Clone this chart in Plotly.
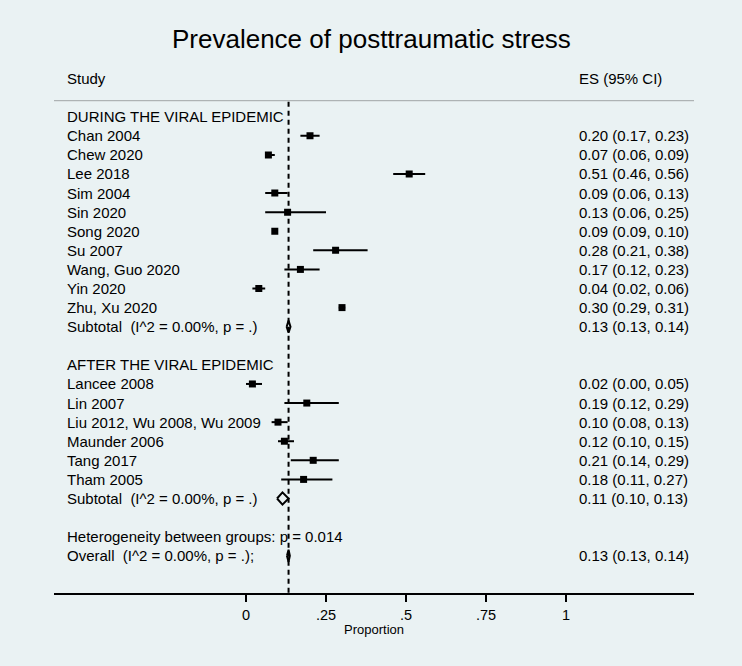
import plotly.graph_objects as go

# ---------------- data ----------------
title = "Prevalence of posttraumatic stress"
col_study = "Study"
col_es = "ES (95% CI)"

group1_name = "DURING THE VIRAL EPIDEMIC"
group1_studies = ["Chan 2004", "Chew 2020", "Lee 2018", "Sim 2004", "Sin 2020",
                  "Song 2020", "Su 2007", "Wang, Guo 2020", "Yin 2020", "Zhu, Xu 2020"]
group1_es = [0.20, 0.07, 0.51, 0.09, 0.13, 0.09, 0.28, 0.17, 0.04, 0.30]
group1_lo = [0.17, 0.06, 0.46, 0.06, 0.06, 0.09, 0.21, 0.12, 0.02, 0.29]
group1_hi = [0.23, 0.09, 0.56, 0.13, 0.25, 0.10, 0.38, 0.23, 0.06, 0.31]
group1_sub = [0.133, 0.127, 0.139]

group2_name = "AFTER THE VIRAL EPIDEMIC"
group2_studies = ["Lancee 2008", "Lin 2007", "Liu 2012, Wu 2008, Wu 2009",
                  "Maunder 2006", "Tang 2017", "Tham 2005"]
group2_es = [0.02, 0.19, 0.10, 0.12, 0.21, 0.18]
group2_lo = [0.00, 0.12, 0.08, 0.10, 0.14, 0.11]
group2_hi = [0.05, 0.29, 0.13, 0.15, 0.29, 0.27]
group2_sub = [0.114, 0.097, 0.133]

overall = [0.133, 0.128, 0.137]

subtotal_label = "Subtotal\u00a0 (I^2 = 0.00%, p = .)"
overall_label = "Overall\u00a0 (I^2 = 0.00%, p = .);"
het_label = "Heterogeneity between groups: p = 0.014"

x_tickvals = [0, 0.25, 0.5, 0.75, 1]
x_ticktext = ["0", ".25", ".5", ".75", "1"]
x_title = "Proportion"

# ---------------- layout constants ----------------
W, H = 742, 666
BG = "#eaf2f3"
FONT = "Liberation Sans, Arial, Helvetica, sans-serif"
AX_L, AX_R = 54, 694          # pixel extent of axis
AX_BOTTOM, AX_TOP = 592.7, 100.7
ROW0, PITCH = 116.7, 19.09

def py(pix):
    return 1 - pix / H

y_lo = (AX_BOTTOM - ROW0) / PITCH
y_hi = (AX_TOP - ROW0) / PITCH

# build row structure
rows = []  # (kind, label, es, lo, hi, row)
r = 0
for name, studies, es, lo, hi, sub in [
    (group1_name, group1_studies, group1_es, group1_lo, group1_hi, group1_sub),
    (group2_name, group2_studies, group2_es, group2_lo, group2_hi, group2_sub),
]:
    rows.append(("header", name, None, None, None, r)); r += 1
    for s, e, l, h in zip(studies, es, lo, hi):
        rows.append(("study", s, e, l, h, r)); r += 1
    rows.append(("sum", subtotal_label, sub[0], sub[1], sub[2], r)); r += 1
    r += 1
rows.append(("header", het_label, None, None, None, r)); r += 1
rows.append(("sum", overall_label, overall[0], overall[1], overall[2], r))

fig = go.Figure()

# study squares with CI lines
st = [row for row in rows if row[0] == "study"]
fig.add_trace(go.Scatter(
    x=[s[2] for s in st], y=[s[5] for s in st], mode="markers",
    marker=dict(symbol="square", size=7, color="black", line=dict(width=0)),
    error_x=dict(type="data", symmetric=False,
                 array=[s[4] - s[2] for s in st],
                 arrayminus=[s[2] - s[3] for s in st],
                 thickness=2, width=0, color="black"),
    hoverinfo="skip", showlegend=False))

# diamonds
HALF = 0.32
for kind, label, e, l, h, rr in rows:
    if kind == "sum":
        fig.add_trace(go.Scatter(
            x=[l, e, h, e, l], y=[rr, rr - HALF, rr, rr + HALF, rr],
            mode="lines", line=dict(color="black", width=2),
            hoverinfo="skip", showlegend=False))

# text annotations
ann = []
for kind, label, e, l, h, rr in rows:
    ann.append(dict(x=65 / W, xref="paper", y=rr, yref="y", text=label,
                    xanchor="left", yanchor="middle", showarrow=False,
                    font=dict(size=15, color="black", family=FONT)))
    if e is not None:
        txt = f"{e:.2f} ({l:.2f}, {h:.2f})"
        ann.append(dict(x=577 / W, xref="paper", y=rr, yref="y", text=txt,
                        xanchor="left", yanchor="middle", showarrow=False,
                        font=dict(size=15, color="black", family=FONT)))

ann.append(dict(x=65 / W, xref="paper", y=py(78.3), yref="paper", text=col_study,
                xanchor="left", yanchor="middle", showarrow=False,
                font=dict(size=15, color="black", family=FONT)))
ann.append(dict(x=577 / W, xref="paper", y=py(78.3), yref="paper", text=col_es,
                xanchor="left", yanchor="middle", showarrow=False,
                font=dict(size=15, color="black", family=FONT)))
ann.append(dict(x=0.5, xref="paper", y=py(39), yref="paper", text=title,
                xanchor="center", yanchor="middle", showarrow=False,
                font=dict(size=26, color="black", family=FONT)))
ann.append(dict(x=0.4, xref="x", y=py(629.5), yref="paper", text=x_title,
                xanchor="center", yanchor="middle", showarrow=False,
                font=dict(size=13, color="black", family=FONT)))

shapes = [
    dict(type="line", xref="paper", yref="paper", x0=AX_L / W, x1=AX_R / W,
         y0=py(AX_TOP), y1=py(AX_TOP), line=dict(color="#a0a4a6", width=1)),
    dict(type="line", xref="x", yref="paper", x0=overall[0], x1=overall[0],
         y0=py(AX_BOTTOM), y1=py(AX_TOP),
         line=dict(color="black", width=2, dash="5px,4px")),
]

fig.update_layout(
    width=W, height=H, margin=dict(l=0, r=0, t=0, b=0),
    paper_bgcolor=BG, plot_bgcolor=BG,
    annotations=ann, shapes=shapes, showlegend=False,
    xaxis=dict(domain=[AX_L / W, AX_R / W], range=[-0.6, 1.4],
               showgrid=False, zeroline=False, showline=True,
               linecolor="black", linewidth=1.5, ticks="outside",
               ticklen=8, tickwidth=1.5, tickcolor="black",
               tickvals=x_tickvals, ticktext=x_ticktext,
               tickfont=dict(size=14.5, color="black", family=FONT)),
    yaxis=dict(domain=[py(AX_BOTTOM), py(AX_TOP)], range=[y_lo, y_hi],
               visible=False, showgrid=False, zeroline=False),
)

post = ("document.body.style.margin='0';"
        "document.body.style.padding='0';"
        "document.body.style.overflow='hidden';"
        "document.body.style.background='" + BG + "';")

fig.write_html("out.html", post_script=post, config={"displayModeBar": False})
